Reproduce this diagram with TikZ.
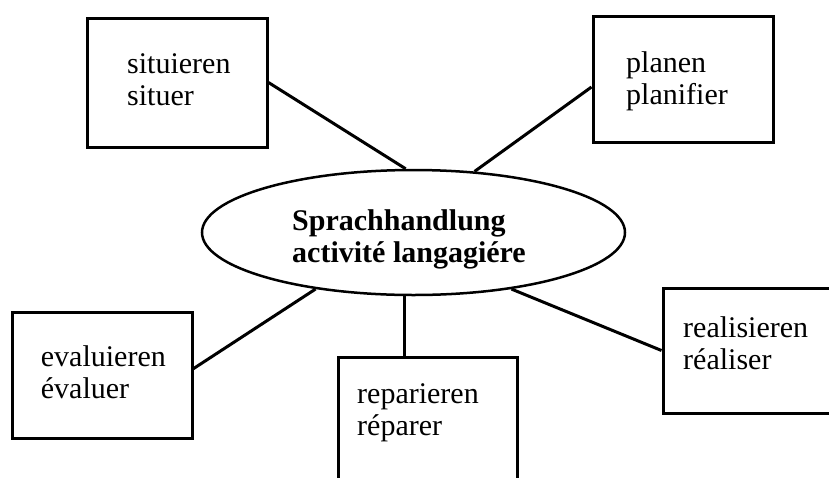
\documentclass[tikz,border=0pt]{standalone}
\usepackage{fontspec}
\setmainfont{Liberation Serif}
\usetikzlibrary{shapes.geometric}
\begin{document}
\begin{tikzpicture}[x=1pt,y=-1pt,
  box/.style={draw, line width=3pt, inner sep=0pt, minimum width=180pt},
  lbl/.style={anchor=base west, align=left, inner sep=0pt, font=\fontsize{30}{32}\selectfont},
  link/.style={line width=3pt}]
\useasboundingbox (0,0) rectangle (829,477);
\clip (0,0) rectangle (829,477);
\node[box, minimum height=129pt] (sit) at (177,82.5) {};
\node[box, minimum height=126pt] (pla) at (683,79) {};
\node[box, minimum height=126pt] (eva) at (102,375) {};
\node[box, minimum height=126pt, minimum width=179pt] (rep) at (427.5,420) {};
\node[box, minimum height=125pt] (rea) at (753,350.5) {};
\node[ellipse, draw, line width=2.5pt, minimum width=423pt, minimum height=125pt, inner sep=0pt] (ell) at (413.5,232.5) {};
\node[lbl] (tsit) at (127,105) {situieren\\situer};
\node[lbl] (tpla) at (626,104.5) {planen\\planifier};
\node[lbl] (teva) at (40.7,398.5) {evaluieren\\évaluer};
\node[lbl] (trep) at (357,435) {reparieren\\réparer};
\node[lbl] (trea) at (683,369) {realisieren\\réaliser};
\node[lbl, font=\fontsize{30}{32}\selectfont\bfseries] (tell) at (292,262) {Sprachhandlung\\activité langagiére};
\draw[link] (sit.east) -- (ell.97.9);
\draw[link] (pla.185.7) -- (ell.45.5);
\draw[link] (eva.4.4) -- (ell.210.3);
\draw[link] (ell.262) -- (ell.262 |- rep.north);
\draw[link] (ell.-30.8) -- (rea.west);
\end{tikzpicture}
\end{document}
